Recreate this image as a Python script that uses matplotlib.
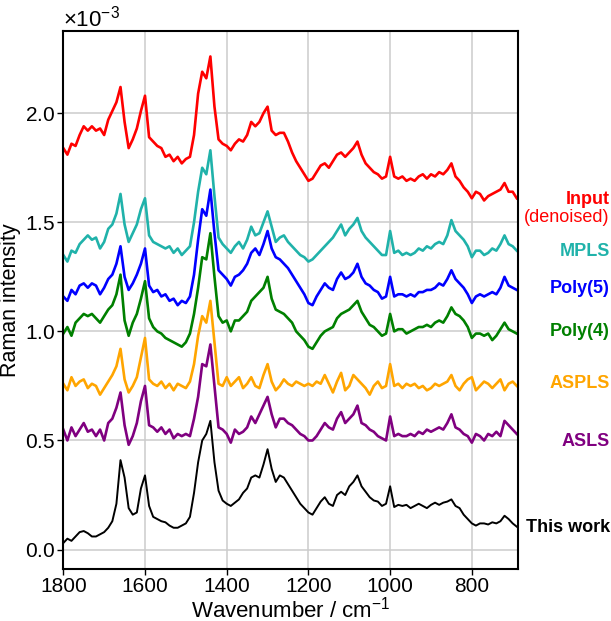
import numpy as np
import matplotlib
matplotlib.use('Agg')
import matplotlib.pyplot as plt
from matplotlib.ticker import ScalarFormatter

plt.rcParams['font.family'] = ['Liberation Sans', 'DejaVu Sans']
plt.rcParams['mathtext.fontset'] = 'custom'
plt.rcParams['mathtext.rm'] = 'Liberation Sans'
plt.rcParams['mathtext.it'] = 'Liberation Sans:italic'

# wavenumber grid (cm^-1), 1800 -> 690
wavenumber = list(range(1800, 689, -10))

# intensities, in units of 1e-3
this_work = [0.03, 0.05, 0.04, 0.06, 0.08, 0.085, 0.075, 0.06, 0.06, 0.07,
             0.08, 0.10, 0.13, 0.21, 0.41, 0.33, 0.19, 0.16, 0.17, 0.28,
             0.34, 0.20, 0.15, 0.14, 0.13, 0.125, 0.11, 0.10, 0.10, 0.11,
             0.12, 0.15, 0.26, 0.40, 0.50, 0.53, 0.59, 0.40, 0.27, 0.225,
             0.21, 0.20, 0.215, 0.23, 0.26, 0.28, 0.33, 0.34, 0.33, 0.39,
             0.46, 0.37, 0.31, 0.34, 0.33, 0.30, 0.27, 0.24, 0.21, 0.19,
             0.17, 0.16, 0.19, 0.22, 0.24, 0.21, 0.20, 0.25, 0.265, 0.25,
             0.29, 0.31, 0.34, 0.29, 0.265, 0.24, 0.225, 0.22, 0.20, 0.21,
             0.29, 0.195, 0.205, 0.20, 0.205, 0.19, 0.20, 0.21, 0.20, 0.19,
             0.205, 0.215, 0.205, 0.215, 0.22, 0.23, 0.20, 0.19, 0.16, 0.14,
             0.12, 0.11, 0.12, 0.12, 0.115, 0.125, 0.12, 0.13, 0.155, 0.14,
             0.12, 0.105]

asls = [0.55, 0.50, 0.56, 0.52, 0.55, 0.58, 0.54, 0.55, 0.52, 0.55,
        0.50, 0.58, 0.60, 0.65, 0.72, 0.57, 0.48, 0.52, 0.58, 0.68,
        0.75, 0.57, 0.56, 0.54, 0.56, 0.53, 0.55, 0.51, 0.53, 0.52,
        0.53, 0.52, 0.60, 0.70, 0.85, 0.84, 0.94, 0.75, 0.56, 0.55,
        0.53, 0.49, 0.55, 0.53, 0.54, 0.56, 0.61, 0.58, 0.62, 0.66,
        0.70, 0.62, 0.56, 0.60, 0.60, 0.58, 0.57, 0.55, 0.53, 0.52,
        0.50, 0.50, 0.52, 0.55, 0.58, 0.56, 0.55, 0.60, 0.63, 0.58,
        0.60, 0.62, 0.66, 0.58, 0.57, 0.55, 0.54, 0.52, 0.51, 0.50,
        0.61, 0.52, 0.53, 0.52, 0.52, 0.53, 0.52, 0.54, 0.53, 0.55,
        0.54, 0.55, 0.56, 0.55, 0.58, 0.62, 0.56, 0.55, 0.53, 0.52,
        0.49, 0.53, 0.52, 0.50, 0.53, 0.52, 0.54, 0.52, 0.59, 0.57,
        0.55, 0.53]

aspls = [0.76, 0.73, 0.79, 0.75, 0.77, 0.78, 0.74, 0.76, 0.75, 0.71,
         0.74, 0.77, 0.80, 0.84, 0.92, 0.78, 0.72, 0.75, 0.79, 0.88,
         0.97, 0.78, 0.76, 0.75, 0.77, 0.74, 0.76, 0.73, 0.76, 0.75,
         0.74, 0.77, 0.85, 0.98, 1.07, 1.04, 1.14, 0.95, 0.76, 0.75,
         0.79, 0.75, 0.77, 0.79, 0.74, 0.76, 0.79, 0.75, 0.74, 0.80,
         0.85, 0.77, 0.73, 0.75, 0.78, 0.76, 0.75, 0.77, 0.76, 0.75,
         0.76, 0.75, 0.77, 0.76, 0.80, 0.76, 0.72, 0.77, 0.81, 0.73,
         0.75, 0.80, 0.78, 0.76, 0.74, 0.71, 0.75, 0.77, 0.74, 0.75,
         0.85, 0.75, 0.76, 0.74, 0.76, 0.75, 0.76, 0.74, 0.75, 0.73,
         0.74, 0.76, 0.75, 0.76, 0.77, 0.80, 0.75, 0.73, 0.76, 0.78,
         0.79, 0.73, 0.75, 0.77, 0.76, 0.74, 0.76, 0.78, 0.73, 0.76,
         0.77, 0.75]

poly4 = [0.99, 1.02, 0.98, 1.04, 1.06, 1.08, 1.07, 1.08, 1.06, 1.04,
         1.07, 1.10, 1.12, 1.17, 1.26, 1.05, 0.98, 1.04, 1.08, 1.15,
         1.23, 1.06, 1.02, 1.00, 0.99, 0.97, 0.96, 0.95, 0.94, 0.93,
         0.95, 0.99, 1.08, 1.20, 1.34, 1.33, 1.45, 1.25, 1.07, 1.04,
         1.05, 1.00, 1.05, 1.05, 1.07, 1.09, 1.14, 1.16, 1.18, 1.20,
         1.25, 1.15, 1.10, 1.09, 1.08, 1.06, 1.04, 1.00, 0.98, 0.96,
         0.93, 0.92, 0.95, 0.98, 1.00, 1.01, 1.02, 1.06, 1.08, 1.09,
         1.10, 1.12, 1.14, 1.09, 1.06, 1.03, 1.02, 1.00, 0.98, 0.99,
         1.08, 1.00, 1.01, 1.01, 0.99, 1.00, 1.01, 1.02, 1.02, 1.03,
         1.02, 1.04, 1.05, 1.04, 1.07, 1.11, 1.08, 1.07, 1.05, 1.02,
         0.97, 0.99, 0.99, 0.98, 0.99, 0.96, 0.98, 1.01, 1.04, 1.01,
         1.00, 0.99]

poly5 = [1.16, 1.14, 1.19, 1.17, 1.21, 1.22, 1.20, 1.22, 1.21, 1.17,
         1.20, 1.24, 1.26, 1.31, 1.39, 1.25, 1.19, 1.22, 1.26, 1.31,
         1.38, 1.21, 1.18, 1.19, 1.16, 1.17, 1.14, 1.15, 1.12, 1.14,
         1.13, 1.16, 1.26, 1.42, 1.56, 1.53, 1.65, 1.45, 1.28, 1.26,
         1.24, 1.21, 1.25, 1.26, 1.28, 1.31, 1.36, 1.38, 1.35, 1.40,
         1.46, 1.38, 1.34, 1.33, 1.31, 1.29, 1.26, 1.23, 1.20, 1.17,
         1.13, 1.12, 1.16, 1.19, 1.22, 1.20, 1.19, 1.24, 1.27, 1.24,
         1.25, 1.27, 1.31, 1.25, 1.22, 1.21, 1.19, 1.18, 1.15, 1.16,
         1.25, 1.16, 1.17, 1.17, 1.16, 1.17, 1.16, 1.18, 1.18, 1.19,
         1.19, 1.20, 1.22, 1.21, 1.24, 1.28, 1.24, 1.22, 1.20, 1.17,
         1.13, 1.16, 1.17, 1.16, 1.17, 1.18, 1.17, 1.20, 1.25, 1.21,
         1.20, 1.19]

mpls = [1.35, 1.32, 1.37, 1.36, 1.40, 1.42, 1.44, 1.42, 1.43, 1.38,
        1.41, 1.47, 1.49, 1.54, 1.63, 1.49, 1.41, 1.45, 1.49, 1.56,
        1.61, 1.44, 1.41, 1.40, 1.39, 1.38, 1.39, 1.36, 1.38, 1.35,
        1.37, 1.39, 1.50, 1.64, 1.75, 1.72, 1.83, 1.62, 1.43, 1.40,
        1.38, 1.36, 1.39, 1.41, 1.38, 1.42, 1.48, 1.44, 1.45, 1.50,
        1.55, 1.48, 1.41, 1.43, 1.44, 1.41, 1.39, 1.37, 1.35, 1.34,
        1.32, 1.33, 1.35, 1.37, 1.39, 1.41, 1.43, 1.46, 1.49, 1.44,
        1.47, 1.49, 1.52, 1.46, 1.43, 1.41, 1.39, 1.37, 1.35, 1.35,
        1.46, 1.36, 1.37, 1.35, 1.36, 1.35, 1.36, 1.38, 1.37, 1.39,
        1.38, 1.40, 1.41, 1.40, 1.44, 1.51, 1.46, 1.44, 1.42, 1.39,
        1.34, 1.37, 1.37, 1.35, 1.36, 1.38, 1.37, 1.40, 1.44, 1.40,
        1.39, 1.37]

input_denoised = [1.84, 1.81, 1.86, 1.85, 1.90, 1.94, 1.92, 1.94, 1.92, 1.93,
                  1.90, 1.97, 2.01, 2.05, 2.12, 1.96, 1.84, 1.88, 1.93, 2.01,
                  2.08, 1.89, 1.87, 1.85, 1.84, 1.80, 1.81, 1.78, 1.80, 1.77,
                  1.79, 1.80, 1.90, 2.09, 2.19, 2.16, 2.26, 2.03, 1.88, 1.86,
                  1.85, 1.83, 1.86, 1.88, 1.87, 1.90, 1.96, 1.94, 1.96, 2.00,
                  2.03, 1.92, 1.90, 1.91, 1.91, 1.87, 1.82, 1.78, 1.75, 1.72,
                  1.69, 1.70, 1.73, 1.76, 1.77, 1.75, 1.78, 1.81, 1.82, 1.80,
                  1.82, 1.84, 1.87, 1.81, 1.77, 1.75, 1.73, 1.72, 1.70, 1.71,
                  1.80, 1.71, 1.70, 1.71, 1.69, 1.70, 1.69, 1.71, 1.72, 1.70,
                  1.72, 1.71, 1.73, 1.72, 1.74, 1.77, 1.71, 1.69, 1.66, 1.64,
                  1.61, 1.64, 1.63, 1.60, 1.62, 1.63, 1.64, 1.65, 1.68, 1.64,
                  1.64, 1.61]

series = [
    (input_denoised, 'red', 1.9),
    (mpls, 'lightseagreen', 1.9),
    (poly5, 'blue', 1.9),
    (poly4, 'green', 1.9),
    (aspls, 'orange', 1.9),
    (asls, 'purple', 1.9),
    (this_work, 'black', 1.4),
]

# right-hand labels: text, colour, figure y (pixels from top), weight
labels = [
    ('Input', 'red', 200, 'bold'),
    ('(denoised)', 'red', 217, 'normal'),
    ('MPLS', 'lightseagreen', 252, 'bold'),
    ('Poly(5)', 'blue', 288, 'bold'),
    ('Poly(4)', 'green', 331, 'bold'),
    ('ASPLS', 'orange', 383, 'bold'),
    ('ASLS', 'purple', 441, 'bold'),
    ('This work', 'black', 527, 'bold'),
]

W, H = 611, 621
fig = plt.figure(figsize=(W / 100, H / 100), dpi=100)
ax = fig.add_axes([63.3 / W, 1 - 569 / H, (518 - 63.3) / W, (569 - 30.5) / H])

x = np.array(wavenumber)
for vals, col, lw in series:
    ax.plot(x, np.array(vals) * 1e-3, color=col, lw=lw)

ax.set_xlim(1800, 687)
ax.set_ylim(-0.089e-3, 2.379e-3)
ax.set_xticks([1800, 1600, 1400, 1200, 1000, 800])
ax.set_yticks([0, 0.5e-3, 1.0e-3, 1.5e-3, 2.0e-3])

fmt = ScalarFormatter(useMathText=True)
fmt.set_powerlimits((-2, 2))
ax.yaxis.set_major_formatter(fmt)
ax.yaxis.get_offset_text().set_fontsize(16)

ax.grid(True, color='#cccccc', lw=1.1)
ax.set_axisbelow(True)
ax.tick_params(labelsize=15, length=4, width=1, pad=2)
for s in ax.spines.values():
    s.set_linewidth(1.5)

ax.set_xlabel('Wavenumber / cm$^{-1}$', fontsize=16, labelpad=0)
ax.set_ylabel('Raman intensity', fontsize=15.5)
ax.yaxis.set_label_coords(-0.092, 0.5)

for txt, col, ypx, wt in labels:
    fig.text(0.998, 1 - ypx / H, txt, color=col, fontsize=13, fontweight=wt,
             ha='right', va='center')

fig.savefig('out.png', dpi=100)
